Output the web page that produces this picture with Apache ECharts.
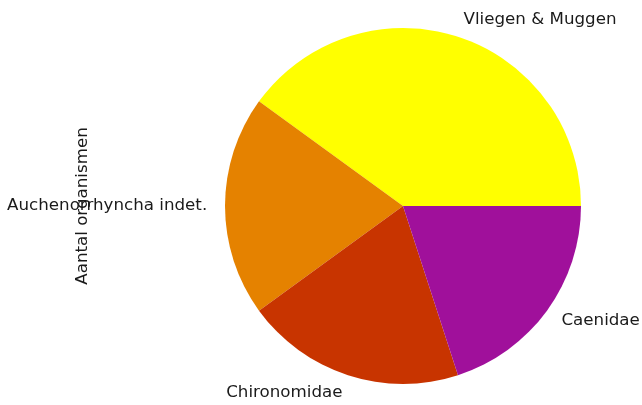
<!DOCTYPE html>
<html>
<head>
<meta charset="utf-8">
<script src="https://cdn.jsdelivr.net/npm/echarts@6/dist/echarts.min.js"></script>
<style>
  html, body { margin: 0; padding: 0; background: #ffffff; }
  #chart { width: 642px; height: 405px; }
</style>
</head>
<body>
<div id="chart"></div>
<script>
// Organism groups and their counts
const categories = ['Vliegen & Muggen', 'Auchenorrhyncha indet.', 'Chironomidae', 'Caenidae'];
const counts = [2, 1, 1, 1];
const colors = ['#ffff00', '#e58200', '#c83400', '#a0109b'];
const yLabel = 'Aantal organismen';

const FONT = 'DejaVu Sans, sans-serif';
const FONT_SIZE = 16.7;
const R = 178;

const chart = echarts.init(document.getElementById('chart'), null, { renderer: 'canvas' });
chart.setOption({
  animation: false,
  backgroundColor: '#ffffff',
  graphic: [{
    type: 'text',
    x: 83,
    y: 206,
    rotation: Math.PI / 2,
    style: {
      text: yLabel,
      font: FONT_SIZE + 'px ' + FONT,
      fill: '#1a1a1a',
      align: 'center',
      verticalAlign: 'middle'
    }
  }],
  series: [{
    type: 'pie',
    center: [403, 206],
    radius: [0, R],
    startAngle: 0,
    clockwise: false,
    avoidLabelOverlap: false,
    silent: true,
    itemStyle: { borderWidth: 0 },
    label: {
      show: true,
      position: 'outside',
      alignTo: 'none',
      distanceToLabelLine: 0,
      fontFamily: FONT,
      fontSize: FONT_SIZE,
      color: '#1a1a1a',
      formatter: '{b}'
    },
    labelLine: { show: false, length: R * 0.1, length2: 0 },
    data: categories.map((name, i) => ({
      name: name,
      value: counts[i],
      itemStyle: { color: colors[i] }
    }))
  }]
});
</script>
</body>
</html>
